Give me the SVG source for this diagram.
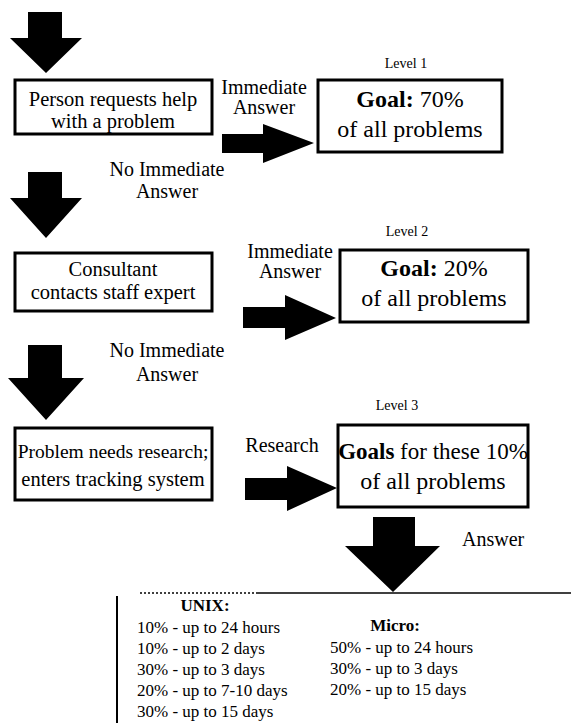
<svg xmlns="http://www.w3.org/2000/svg" width="571" height="723" viewBox="0 0 571 723">
<defs>
<style>
.box{fill:#fff;stroke:#000;stroke-width:3}
text{font-family:"Liberation Serif","DejaVu Serif","Times New Roman",serif;fill:#000}
.t{text-anchor:middle}
.tl{text-anchor:start}
.big{font-size:20.5px}
.goal{font-size:24px}
.lab{font-size:20px}
.lvl{font-size:14px}
.list{font-size:17px}
.b{font-weight:bold}
.arr{fill:#000}
</style>
</defs>
<rect width="571" height="723" fill="#fff"/>
<g id="connectors">
<polygon class="arr" points="28,12 62,12 62,38 82,38 46,73 10,38 28,38"/>
<polygon class="arr" points="222,134 263,134 263,124 314,143 263,163 263,153 222,153"/>
<polygon class="arr" points="28,172 62,172 62,198 82,198 46,238 10,198 28,198"/>
<polygon class="arr" points="243,307 285,307 285,295 336,318 285,340 285,328 243,328"/>
<polygon class="arr" points="28,345 62,345 62,378 84,378 46,420 8,378 28,378"/>
<polygon class="arr" points="245,478 287,478 287,466 337,488 287,511 287,500 245,500"/>
<polygon class="arr" points="373,517 415,517 415,546 440,546 393,592 345,546 373,546"/>
</g>
<g id="labels">
<text class="t lab" x="264" y="94">Immediate</text>
<text class="t lab" x="264" y="114">Answer</text>
<text class="t lab" x="167" y="176">No Immediate</text>
<text class="t lab" x="167" y="198">Answer</text>
<text class="t lab" x="290" y="258">Immediate</text>
<text class="t lab" x="290" y="278">Answer</text>
<text class="t lab" x="167" y="357">No Immediate</text>
<text class="t lab" x="167" y="381">Answer</text>
<text class="t lab" x="282" y="452">Research</text>
<text class="tl lab" x="462" y="546">Answer</text>
<text class="t lvl" x="406" y="68">Level 1</text>
<text class="t lvl" x="407" y="236">Level 2</text>
<text class="t lvl" x="397" y="410">Level 3</text>
</g>
<g id="n1">
<rect class="box" x="15" y="80" width="197" height="54"/>
<text class="t big" x="113" y="106">Person requests help</text>
<text class="t big" x="113" y="128">with a problem</text>
</g>
<g id="g1">
<rect class="box" x="318" y="80" width="184" height="72"/>
<text class="t goal" x="410" y="107"><tspan class="b">Goal:</tspan> 70%</text>
<text class="t goal" x="410" y="137">of all problems</text>
</g>
<g id="n2">
<rect class="box" x="15" y="253" width="197" height="58"/>
<text class="t big" x="113" y="276">Consultant</text>
<text class="t big" x="113" y="299">contacts staff expert</text>
</g>
<g id="g2">
<rect class="box" x="340" y="250" width="188" height="72"/>
<text class="t goal" x="434" y="276"><tspan class="b">Goal:</tspan> 20%</text>
<text class="t goal" x="434" y="306">of all problems</text>
</g>
<g id="n3">
<rect class="box" x="15" y="428" width="197" height="72"/>
<text class="t big" x="113" y="458" style="font-size:19.5px">Problem needs research;</text>
<text class="t big" x="113" y="486">enters tracking system</text>
</g>
<g id="g3">
<rect class="box" x="338" y="425" width="190" height="82"/>
<text class="t goal" x="433" y="459" style="font-size:23px"><tspan class="b">Goals</tspan> for these 10%</text>
<text class="t goal" x="433" y="489">of all problems</text>
</g>
<g id="answers">
<line x1="140" y1="593" x2="258" y2="593" stroke="#000" stroke-width="1.5" stroke-dasharray="2,2"/>
<line x1="258" y1="593" x2="571" y2="593" stroke="#000" stroke-width="1.5"/>
<line x1="117" y1="596" x2="117" y2="723" stroke="#000" stroke-width="2"/>
<text class="t list b" x="205" y="611">UNIX:</text>
<text class="tl list" x="137" y="633">10% - up to 24 hours</text>
<text class="tl list" x="137" y="654">10% - up to 2 days</text>
<text class="tl list" x="137" y="675">30% - up to 3 days</text>
<text class="tl list" x="137" y="696">20% - up to 7-10 days</text>
<text class="tl list" x="137" y="717">30% - up to 15  days</text>
<text class="t list b" x="395" y="631">Micro:</text>
<text class="tl list" x="330" y="653">50% - up to 24 hours</text>
<text class="tl list" x="330" y="674">30% - up to 3 days</text>
<text class="tl list" x="330" y="695">20% - up to 15 days</text>
</g>
</svg>
